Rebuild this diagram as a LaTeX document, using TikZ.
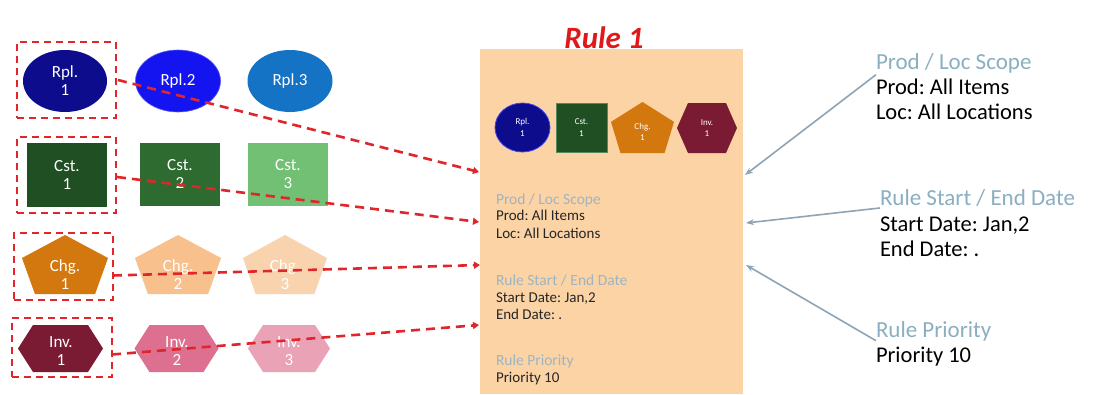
\documentclass[tikz,border=0pt]{standalone}
\usepackage{fontspec}
\setmainfont{Carlito}
\frenchspacing
\usetikzlibrary{shapes.geometric,arrows.meta,calc}
\definecolor{rplA}{HTML}{0C0C8C}
\definecolor{rplB}{HTML}{1414F0}
\definecolor{rplC}{HTML}{1473C4}
\definecolor{cstA}{HTML}{1F4F22}
\definecolor{cstB}{HTML}{2E6B30}
\definecolor{cstC}{HTML}{72C074}
\definecolor{chgA}{HTML}{D2780E}
\definecolor{chgB}{HTML}{F7C08C}
\definecolor{chgC}{HTML}{F9D3AE}
\definecolor{invA}{HTML}{7B1A33}
\definecolor{invB}{HTML}{DD7090}
\definecolor{invC}{HTML}{E9A2B6}
\definecolor{rulefill}{HTML}{FCD3A5}
\definecolor{dashred}{HTML}{E0262A}
\definecolor{titlered}{HTML}{E01818}
\definecolor{arrowgray}{HTML}{8EA4B4}
\definecolor{sidehead}{HTML}{8AAFC0}
\definecolor{boxhead}{HTML}{9FB4C0}
\newcommand\pentshape[5]{% cx cy hw hh colour
  \fill[#5] (#1,{#2-#4}) -- ({#1+#3},{#2-0.22*#4}) -- ({#1+0.7*#3},{#2+#4})
    -- ({#1-0.7*#3},{#2+#4}) -- ({#1-#3},{#2-0.22*#4}) -- cycle;}
\newcommand\hexshape[6]{% cx cy hw hh depth colour
  \fill[#6] ({#1-#3},#2) -- ({#1-#3+#5},{#2-#4}) -- ({#1+#3-#5},{#2-#4})
    -- ({#1+#3},#2) -- ({#1+#3-#5},{#2+#4}) -- ({#1-#3+#5},{#2+#4}) -- cycle;}
\tikzset{
  every node/.style={inner sep=0pt, outer sep=0pt},
  biglabel/.style={text=white, font=\fontsize{17}{18}\selectfont, align=center},
  smalllabel/.style={text=white, font=\fontsize{9}{11.5}\selectfont, align=center},
  selbox/.style={draw=dashred, line width=2.4pt, dash pattern=on 7pt off 5pt},
  redlink/.style={draw=dashred, line width=2.6pt, dash pattern=on 9pt off 6pt,
    -{Triangle[length=6pt,width=7pt]}},
  graylink/.style={draw=arrowgray, line width=1.6pt, -{Stealth[length=8pt,width=6pt]}},
  boxheadtxt/.style={anchor=base west, text=boxhead, font=\fontsize{15.5}{17}\selectfont},
  boxtxt/.style={anchor=base west, text=black!85, font=\fontsize{15}{17}\selectfont},
  sideheadtxt/.style={anchor=base west, text=sidehead, font=\fontsize{23}{25}\selectfont},
  sidetxt/.style={anchor=base west, text=black, font=\fontsize{22.5}{25}\selectfont},
}
\begin{document}
\begin{tikzpicture}[x=1pt,y=-1pt]
\useasboundingbox (0,0) rectangle (1098,394);
\fill[white] (0,0) rectangle (1098,394);

% ---------- rule box ----------
\node[fill=rulefill, minimum width=263pt, minimum height=345pt, anchor=north west] (rule) at (480,49) {};
\node[text=titlered, font=\fontsize{31}{33}\selectfont\bfseries\itshape] (title) at (604,38) {Rule 1};

% ---------- left shapes: Rpl ----------
\node[ellipse, fill=rplA, minimum width=84pt, minimum height=62pt, biglabel] (rpl1) at (65,81) {Rpl.\\1};
\node[ellipse, fill=rplB, draw=rplB!70!white, line width=0.6pt, minimum width=85pt, minimum height=62pt, biglabel] (rpl2) at (178,81) {Rpl.2};
\node[ellipse, fill=rplC, minimum width=85pt, minimum height=62pt, biglabel] (rpl3) at (290,81) {Rpl.3};

% ---------- Cst ----------
\node[fill=cstA, minimum width=80pt, minimum height=64pt, biglabel] (cst1) at (67,175) {Cst.\\1};
\node[fill=cstB, minimum width=80pt, minimum height=63pt, biglabel] (cst2) at (180,174) {Cst.\\2};
\node[fill=cstC, minimum width=80pt, minimum height=63pt, biglabel] (cst3) at (288,174) {Cst.\\3};

% ---------- Chg ----------
\pentshape{65}{264.5}{43}{29.5}{chgA}
\pentshape{178}{264.5}{43}{29.5}{chgB}
\pentshape{285}{264.5}{42}{29.5}{chgC}
\node[biglabel] (chg1) at (65,275) {Chg.\\1};
\node[biglabel] (chg2) at (178,275) {Chg.\\2};
\node[biglabel] (chg3) at (285,275) {Chg.\\3};

% ---------- Inv ----------
\hexshape{60.5}{348.5}{42.5}{23.5}{15}{invA}
\hexshape{176.5}{348.5}{42}{23.5}{15}{invB}
\hexshape{289}{348.5}{41}{23.5}{15}{invC}
\node[biglabel] (inv1) at (61,351) {Inv.\\1};
\node[biglabel] (inv2) at (177,351) {Inv.\\2};
\node[biglabel] (inv3) at (289,351) {Inv.\\3};

% ---------- selection boxes ----------
\node[selbox, minimum width=99pt, minimum height=76pt] (rplbox) at (66.5,80) {};
\node[selbox, minimum width=99pt, minimum height=76pt] (cstbox) at (66.5,175) {};
\node[selbox, minimum width=99pt, minimum height=67pt] (chgbox) at (63.5,266.5) {};
\node[selbox, minimum width=100pt, minimum height=59pt] (invbox) at (62,347.5) {};

% ---------- small shapes in rule box ----------
\node[ellipse, fill=rplA, draw=rplB!80!white, line width=0.8pt, minimum width=55pt, minimum height=49pt, smalllabel] (srpl) at (522.5,127.5) {Rpl.\\1};
\node[fill=cstA, draw=cstB!80!white, line width=0.8pt, minimum width=51pt, minimum height=49pt, smalllabel] (scst) at (581.5,127.5) {Cst.\\1};
\pentshape{642.5}{127.5}{31.5}{25.5}{chgA}
\node[smalllabel] (schg) at (642.5,132) {Chg.\\1};
\hexshape{707}{128}{30}{25}{11}{invA}
\node[smalllabel] (sinv) at (707,128) {Inv.\\1};

% ---------- texts inside rule box ----------
\node[boxheadtxt] (bh1) at (496,204) {Prod / Loc Scope};
\node[boxtxt] (bt1a) at (496,220) {Prod: All Items};
\node[boxtxt] (bt1b) at (496,238) {Loc: All Locations};
\node[boxheadtxt] (bh2) at (496,285) {Rule Start / End Date};
\node[boxtxt] (bt2a) at (496,302) {Start Date: Jan,2};
\node[boxtxt] (bt2b) at (496,319) {End Date: .};
\node[boxheadtxt] (bh3) at (496,365) {Rule Priority};
\node[boxtxt] (bt3a) at (496,382) {Priority 10};

% ---------- side texts ----------
\node[sideheadtxt] (sh1) at (876,69) {Prod / Loc Scope};
\node[sidetxt] (st1a) at (876,94) {Prod: All Items};
\node[sidetxt] (st1b) at (876,119) {Loc: All Locations};
\node[sideheadtxt] (sh2) at (880,205) {Rule Start / End Date};
\node[sidetxt] (st2a) at (880,231) {Start Date: Jan,2};
\node[sidetxt] (st2b) at (880,256) {End Date: .};
\node[sideheadtxt] (sh3) at (876,337) {Rule Priority};
\node[sidetxt] (st3a) at (876,362) {Priority 10};

% ---------- connector end points on the rule box ----------
\coordinate (ra) at (479,172);
\coordinate (rb) at (479,222);
\coordinate (rc) at (480,265);
\coordinate (rd) at (479,325);
\coordinate (ga) at (745,175);
\coordinate (gb) at (746,223);
\coordinate (gc) at (746,265);

% ---------- red dashed connectors ----------
\draw[redlink] ([xshift=2pt]rplbox.east) -- (ra);
\draw[redlink] ([xshift=1pt,yshift=-2pt]cstbox.east) -- (rb);
\draw[redlink] ([yshift=-9pt]chgbox.east) -- (rc);
\draw[redlink] ([yshift=-7pt]invbox.east) -- (rd);

% ---------- gray connectors ----------
\draw[graylink] ([yshift=-2pt]sh1.south west) -- (ga);
\draw[graylink] ([yshift=-2pt]sh2.south west) -- (gb);
\draw[graylink] ([yshift=0pt]sh3.south west) -- (gc);
\end{tikzpicture}
\end{document}
